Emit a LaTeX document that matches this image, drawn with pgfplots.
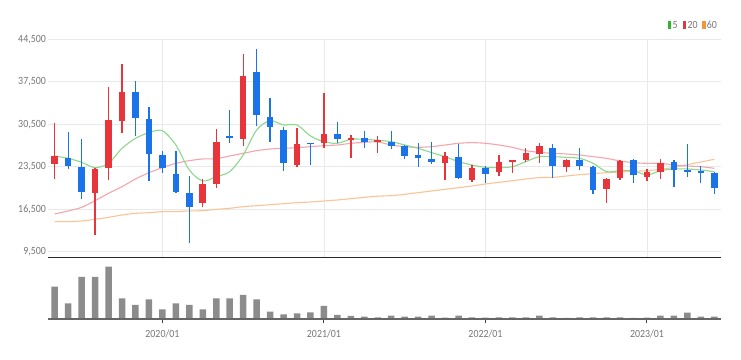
\documentclass[border=0pt]{standalone}
\usepackage{fontspec}
\setmainfont{Carlito}[FakeStretch=0.9]
\usepackage{pgfplots}
\usepackage{pgfplotstable}
\pgfplotsset{compat=1.18}
\definecolor{upred}{HTML}{E8353B}
\definecolor{dnblue}{HTML}{1A73E8}
\definecolor{ma5c}{HTML}{8DD88D}
\definecolor{ma20c}{HTML}{F4A6AC}
\definecolor{ma60c}{HTML}{F9C596}
\definecolor{leg5}{HTML}{2DB52D}
\definecolor{leg20}{HTML}{E8353B}
\definecolor{leg60}{HTML}{F5943A}
\definecolor{gridc}{HTML}{E9E9E9}
\definecolor{txt}{HTML}{777777}
\definecolor{volc}{HTML}{8C8C8C}

\pgfplotstableread{
i o h l c
0 23950 30750 21480 25270
3 19230 23240 12300 23070
4 23350 36590 21310 31200
5 31040 40380 29000 35870
11 17470 21420 16920 20650
12 20650 29660 19940 27630
14 28130 42080 26920 38500
18 23790 29830 23400 27250
20 27360 35600 26530 28840
22 27900 28730 24890 28180
24 27580 28500 25710 27900
29 24060 25870 21310 25320
31 21310 23790 21040 23350
33 22690 25430 21970 24280
34 24340 24610 22520 24600
35 24560 26640 24230 25820
36 25600 27470 24170 26970
38 23510 24700 22690 24610
41 19780 21590 17470 21420
42 21590 24610 21310 24390
44 21750 23070 21200 22690
45 22690 24720 21420 24060
}\upcandles

\pgfplotstableread{
i o h l c
1 25000 29170 23070 23680
2 23500 28020 18180 19280
6 35760 37680 28570 31480
7 31310 33400 21200 25600
8 25430 26150 22520 23240
9 22300 26150 19200 19390
10 19120 22030 11000 16920
13 28560 32900 27360 28200
15 39060 42900 30270 32030
16 31750 34770 27580 30000
17 29550 30100 22850 24060
19 27470 27470 23790 27250
21 28840 30930 27360 28020
23 28180 29440 26530 27630
25 27520 29390 26370 26970
26 26970 27080 24720 25320
27 25380 27360 23510 25000
28 24720 27520 23950 24280
30 25050 27250 21420 21590
32 23350 23620 20870 22300
37 26640 27250 21700 23680
39 24610 26530 22960 23680
40 23400 23620 19010 19670
43 24610 24830 20870 22140
46 24230 24610 20100 22960
47 22960 27190 21750 22740
48 22740 23620 20870 22520
49 22520 22600 18950 19940
}\dncandles

\pgfplotstableread{
i v ma5 ma20 ma60
0 98 25270 15710 14450
1 48 24890 16210 14450
2 127 24230 16810 14560
3 127 23350 17910 14830
4 158 24060 19120 15160
5 63 26530 20220 15550
6 43 28180 21480 15820
7 60 29110 22520 15930
8 30 29440 23350 16100
9 48 27080 24060 16100
10 43 22960 24500 16210
11 30 21150 24780 16260
12 63 21860 24830 16480
13 63 22690 25270 16650
14 73 25430 25710 16920
15 60 29550 26150 17080
16 23 31090 26420 17250
17 15 30380 26530 17410
18 18 30380 26640 17580
19 21 28570 26810 17690
20 40 27630 26970 17850
21 13 27360 27080 18020
22 10 28020 27360 18240
23 8 28020 27520 18460
24 6 27850 27580 18650
25 11 27630 27080 18730
26 8 27080 26810 18950
27 8 26530 26700 19230
28 11 25820 26810 19500
29 5 25160 27080 19780
30 11 24340 27360 20050
31 6 23790 27470 20330
32 5 23400 27360 20660
33 6 23350 27080 20930
34 6 23510 26700 21200
35 6 24340 26150 21480
36 11 25160 25870 21700
37 6 25160 25710 21750
38 4 25050 25600 21970
39 6 24880 25430 22190
40 6 24060 25160 22360
41 6 22690 24880 22520
42 6 22850 24450 22630
43 4 22850 24170 22740
44 5 22140 24060 22850
45 11 22850 24060 23070
46 11 23130 23790 23400
47 20 23130 23620 23840
48 8 22960 23510 24280
49 8 22690 23240 24720
}\series

\pgfplotsset{
  candle/.style 2 args={draw=none, mark=none, mark size=0pt, forget plot,
    error bars/.cd, y dir=both, y explicit, error mark=none,
    error bar style={draw=#1, line width=#2, line cap=butt, solid}},
}

\begin{document}
\begin{tikzpicture}
\useasboundingbox (0,0) rectangle (741bp,360bp);
\fill[white] (0,0) rectangle (741bp,360bp);

% ---------- price panel ----------
\begin{axis}[
  scale only axis,
  at={(48bp,102bp)}, anchor=south west,
  width=673bp, height=218.7bp,
  xmin=-0.5, xmax=49.5,
  ymin=8460, ymax=44500,
  axis line style={draw=none},
  scaled y ticks=false,
  xtick={8,20,32,44}, xticklabels={},
  ytick={9500,16500,23500,30500,37500,44500},
  yticklabels={{9,500},{16,500},{23,500},{30,500},{37,500},{44,500}},
  major tick length=0pt,
  xmajorgrids, ymajorgrids,
  grid style={gridc, line width=0.8bp},
  yticklabel style={anchor=east, inner sep=0pt, xshift=-2bp, font=\fontsize{11bp}{13bp}\selectfont, text=txt},
  tick style={draw=none},
]
\addplot[ma60c, line width=1.1bp, smooth, mark=none] table[x=i, y=ma60] {\series};
\addplot[ma20c, line width=1.1bp, smooth, mark=none] table[x=i, y=ma20] {\series};
\addplot[ma5c, line width=1.1bp, smooth, mark=none] table[x=i, y=ma5] {\series};

% wicks
\addplot[candle={upred}{1.3bp}]
  table[x=i, y expr={(\thisrow{h}+\thisrow{l})/2}, y error expr={(\thisrow{h}-\thisrow{l})/2}] {\upcandles};
\addplot[candle={dnblue}{1.3bp}]
  table[x=i, y expr={(\thisrow{h}+\thisrow{l})/2}, y error expr={(\thisrow{h}-\thisrow{l})/2}] {\dncandles};
% bodies
\addplot[candle={upred}{6.6bp}]
  table[x=i, y expr={(\thisrow{o}+\thisrow{c})/2}, y error expr={max(abs(\thisrow{c}-\thisrow{o})/2,90)}] {\upcandles};
\addplot[candle={dnblue}{6.6bp}]
  table[x=i, y expr={(\thisrow{o}+\thisrow{c})/2}, y error expr={max(abs(\thisrow{c}-\thisrow{o})/2,90)}] {\dncandles};

\draw[black!85, line width=2bp] (rel axis cs:0,0) -- (rel axis cs:1,0);
\end{axis}

% ---------- volume panel ----------
\begin{axis}[
  scale only axis,
  at={(48bp,40.7bp)}, anchor=south west,
  width=673bp, height=60.3bp,
  xmin=-0.5, xmax=49.5,
  ymin=0, ymax=181,
  axis line style={draw=none},
  ytick=\empty,
  xtick={8,20,32,44},
  xticklabels={2020/01,2021/01,2022/01,2023/01},
  xtick pos=bottom,
  tick align=outside,
  major tick length=4bp,
  tick style={black!75, line width=1bp},
  xticklabel style={font=\fontsize{11bp}{13bp}\selectfont, text=txt, yshift=-3bp},
]
\addplot[ybar, bar width=6.5bp, fill=volc, draw=none, mark=none] table[x=i, y=v] {\series};
\draw[black!60, line width=1.6bp] (rel axis cs:0,0) -- (rel axis cs:1,0);
\end{axis}

% ---------- legend ----------
\begin{scope}[every node/.style={inner sep=0pt, anchor=west, text=txt, font=\fontsize{11bp}{13bp}\selectfont}]
\fill[leg5] (667.7bp,331bp) rectangle (671.2bp,339bp);
\node at (672.5bp,335bp) {5};
\fill[leg20] (682.7bp,331bp) rectangle (686.2bp,339bp);
\node at (687.3bp,335bp) {20};
\fill[leg60] (702bp,331bp) rectangle (705.5bp,339bp);
\node at (706.6bp,335bp) {60};
\end{scope}
\end{tikzpicture}
\end{document}
